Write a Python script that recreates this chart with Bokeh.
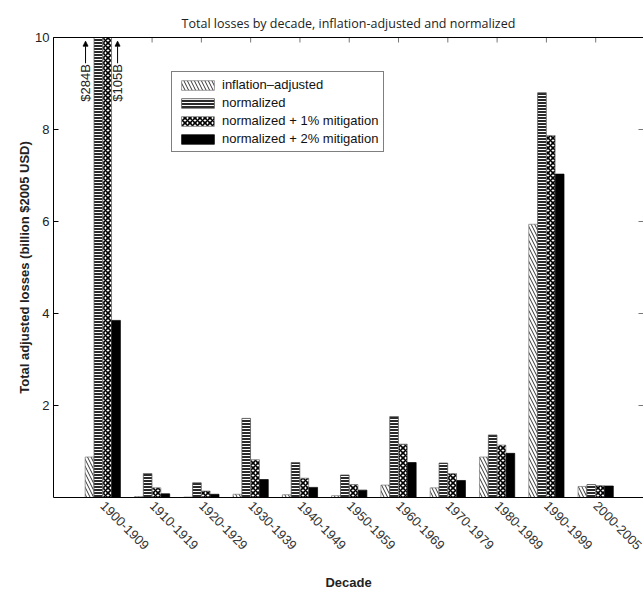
import math
from bokeh.plotting import figure
from bokeh.models import (Range1d, FixedTicker, LinearAxis, Legend, LegendItem,
                          Arrow, NormalHead)
from bokeh.core.properties import value
from bokeh.embed import file_html
from bokeh.resources import INLINE

# ---------------- data ----------------
decades = ["1900-1909", "1910-1919", "1920-1929", "1930-1939", "1940-1949",
           "1950-1959", "1960-1969", "1970-1979", "1980-1989", "1990-1999",
           "2000-2005"]
inflation_adjusted = [0.88, 0.02, 0.01, 0.07, 0.06, 0.04, 0.27, 0.21, 0.88, 5.94, 0.24]
normalized = [284.0, 0.52, 0.32, 1.72, 0.76, 0.49, 1.76, 0.75, 1.36, 8.80, 0.28]
mitigation_1pct = [105.0, 0.21, 0.14, 0.82, 0.42, 0.28, 1.16, 0.52, 1.14, 7.87, 0.26]
mitigation_2pct = [3.85, 0.08, 0.07, 0.39, 0.22, 0.16, 0.76, 0.37, 0.96, 7.03, 0.25]
series_labels = ["inflation\u2013adjusted", "normalized",
                 "normalized + 1% mitigation", "normalized + 2% mitigation"]
y_ticks = [2, 4, 6, 8, 10]
off_scale_labels = ["$284B", "$105B"]

FONT = "Liberation Sans"
idx = list(range(1, len(decades) + 1))
X_END = 11.97
Y_END = 10

p = figure(width=643, height=592, x_range=Range1d(0, X_END), y_range=Range1d(0, Y_END),
           output_backend="svg", toolbar_location=None,
           min_border_left=53, min_border_top=37, min_border_bottom=90, min_border_right=0,
           outline_line_color=None, background_fill_color="white")
p.grid.visible = False

# ---------------- bars ----------------
bw = 0.175
offsets = [-0.27, -0.09, 0.09, 0.27]

r1 = p.vbar(x=[i + offsets[0] for i in idx], top=inflation_adjusted, width=bw, bottom=0,
            fill_color="white", hatch_pattern="left_diagonal_line", hatch_color="black",
            hatch_scale=7, hatch_weight=0.8, line_color="#777", line_width=0.7)
r2 = p.vbar(x=[i + offsets[1] for i in idx], top=normalized, width=bw, bottom=0,
            fill_color="#2a2a2a", hatch_pattern="horizontal_line", hatch_color="white",
            hatch_scale=3, hatch_weight=1, line_color="#555", line_width=0.7)
r3 = p.vbar(x=[i + offsets[2] for i in idx], top=mitigation_1pct, width=bw, bottom=0,
            fill_color="white", hatch_pattern="diagonal_cross", hatch_color="black",
            hatch_scale=5, hatch_weight=1.6, line_color="#777", line_width=0.7)
r4 = p.vbar(x=[i + offsets[3] for i in idx], top=mitigation_2pct, width=bw, bottom=0,
            fill_color="black", line_color="black", line_width=0.7)

# ---------------- inner tick marks on top and right edges ----------------
p.scatter(x=idx, y=[Y_END] * len(idx), marker="dash", angle=math.pi / 2, size=10,
          line_color="#777", line_width=1)
p.scatter(x=[X_END] * (len(y_ticks) - 1), y=y_ticks[:-1], marker="dash", size=10,
          line_color="#777", line_width=1)

# ---------------- off-scale annotations ----------------
ann_x = [1 - 0.35, 1 + 0.30]
for xa in ann_x:
    p.add_layout(Arrow(end=NormalHead(size=5, fill_color="black", line_color="black", line_width=0.8),
                       x_start=xa, y_start=9.44, x_end=xa, y_end=9.92,
                       line_color="black", line_width=1))
p.text(x=ann_x, y=[9.42, 9.42], text=off_scale_labels, angle=math.pi / 2,
       text_align="right", text_baseline="middle", text_font=value(FONT),
       text_font_size="13px", text_color="#222")

# ---------------- axes ----------------
xa_ = p.xaxis[0]
xa_.ticker = FixedTicker(ticks=idx)
xa_.major_label_overrides = {i: d for i, d in zip(idx, decades)}
xa_.major_label_orientation = -math.pi / 4
xa_.major_tick_in = 0
xa_.major_tick_out = 0
xa_.minor_tick_line_color = None
xa_.major_label_standoff = 6
xa_.major_label_text_font = FONT
xa_.major_label_text_font_size = "13px"
xa_.major_label_text_color = "#333"
xa_.axis_label = "Decade"
xa_.axis_label_text_font = FONT
xa_.axis_label_text_font_size = "13px"
xa_.axis_label_text_font_style = "bold"
xa_.axis_label_text_color = "#222"
xa_.axis_label_standoff = 18
xa_.axis_line_color = "black"

ya_ = p.yaxis[0]
ya_.ticker = FixedTicker(ticks=y_ticks)
ya_.major_tick_in = 5
ya_.major_tick_out = 0
ya_.minor_tick_line_color = None
ya_.major_label_standoff = 4
ya_.major_label_text_font = FONT
ya_.major_label_text_font_size = "13px"
ya_.major_label_text_color = "#222"
ya_.axis_label = "Total adjusted losses (billion $2005 USD)"
ya_.axis_label_text_font = FONT
ya_.axis_label_text_font_size = "13px"
ya_.axis_label_text_font_style = "bold"
ya_.axis_label_text_color = "#222"
ya_.axis_label_standoff = 0
ya_.axis_line_color = "black"

top_axis = LinearAxis(ticker=FixedTicker(ticks=[]), major_tick_in=0, major_tick_out=0,
                      minor_tick_line_color=None, major_label_standoff=0,
                      axis_line_color="black")
p.add_layout(top_axis, "above")

# ---------------- title ----------------
p.title.text = "Total losses by decade, inflation-adjusted and normalized"
p.title.align = "center"
p.title.text_font = "Open Sans"
p.title.text_font_size = "12.5px"
p.title.text_font_style = "normal"
p.title.text_color = "#222"
p.title.standoff = 12
p.title.offset = 10

# ---------------- legend ----------------
legend = Legend(items=[LegendItem(label=lab, renderers=[r]) for lab, r in
                       zip(series_labels, [r1, r2, r3, r4])],
                location=(118, 345), orientation="vertical",
                glyph_width=41, glyph_height=12, label_height=14, spacing=3,
                padding=5, label_standoff=4, margin=0,
                label_text_font=FONT, label_text_font_size="13px", label_text_color="#111",
                border_line_color="black", border_line_width=1.5,
                background_fill_color="white", background_fill_alpha=1)
p.add_layout(legend, "center")

open("out.html", "w").write(file_html(p, INLINE))
